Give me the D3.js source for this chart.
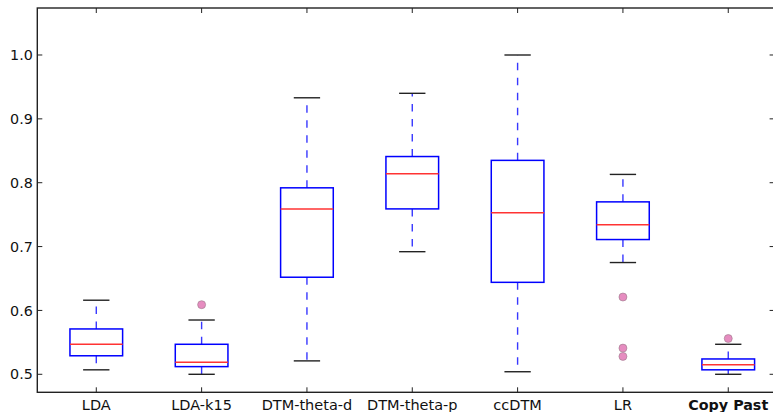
<!DOCTYPE html>
<html>
<head>
<meta charset="utf-8">
<script src="https://cdn.jsdelivr.net/npm/d3@7/dist/d3.min.js"></script>
<style>
  html, body { margin: 0; padding: 0; background: #fff; }
  svg { display: block; }
  text { font-family: "DejaVu Sans", sans-serif; }
</style>
</head>
<body>
<svg id="chart" width="773" height="412"></svg>
<script>
// ---- data ----
const categories = ["LDA", "LDA-k15", "DTM-theta-d", "DTM-theta-p", "ccDTM", "LR", "Copy Past"];
const whiskerLow  = [0.507, 0.500, 0.521, 0.692, 0.504, 0.675, 0.500];
const q1          = [0.529, 0.512, 0.652, 0.759, 0.644, 0.711, 0.507];
const medians     = [0.547, 0.519, 0.759, 0.814, 0.753, 0.734, 0.515];
const q3          = [0.571, 0.547, 0.792, 0.841, 0.835, 0.770, 0.524];
const whiskerHigh = [0.616, 0.585, 0.933, 0.940, 1.000, 0.813, 0.547];
const fliers      = [[], [0.609], [], [], [], [0.621, 0.541, 0.528], [0.556]];
const yTicks      = [0.5, 0.6, 0.7, 0.8, 0.9, 1.0];
const yTickLabels = ["0.5", "0.6", "0.7", "0.8", "0.9", "1.0"];

// ---- layout ----
const pL = 37.3, pR = 774.6, pT = 8, pB = 392.3;
const svg = d3.select("#chart");

const x = d3.scaleLinear().domain([0.44, 7.44]).range([pL, pR]);
const y = d3.scaleLinear().domain([0.4718, 1.0736]).range([pB, pT]);

const boxW = 0.5, capW = 0.25;
const data = categories.map((c, i) => ({
  name: c, pos: i + 1,
  lo: whiskerLow[i], q1: q1[i], med: medians[i], q3: q3[i], hi: whiskerHigh[i],
  fl: fliers[i]
}));

const g = svg.append("g");

// whiskers (dashed blue), dashes starting at the box edge
g.selectAll(".wup").data(data).join("line")
  .attr("x1", d => x(d.pos)).attr("x2", d => x(d.pos))
  .attr("y1", d => y(d.q3)).attr("y2", d => y(d.hi))
  .attr("stroke", "#3838ff").attr("stroke-width", 1.4)
  .attr("stroke-dasharray", "7.5,7.5");
g.selectAll(".wdn").data(data).join("line")
  .attr("x1", d => x(d.pos)).attr("x2", d => x(d.pos))
  .attr("y1", d => y(d.q1)).attr("y2", d => y(d.lo))
  .attr("stroke", "#3838ff").attr("stroke-width", 1.4)
  .attr("stroke-dasharray", "7.5,7.5");

// caps
["hi", "lo"].forEach(k => {
  g.selectAll(".cap" + k).data(data).join("line")
    .attr("x1", d => x(d.pos - capW / 2)).attr("x2", d => x(d.pos + capW / 2))
    .attr("y1", d => y(d[k])).attr("y2", d => y(d[k]))
    .attr("stroke", "#222").attr("stroke-width", 1.4);
});

// boxes
g.selectAll(".box").data(data).join("rect")
  .attr("x", d => x(d.pos - boxW / 2))
  .attr("width", d => x(d.pos + boxW / 2) - x(d.pos - boxW / 2))
  .attr("y", d => y(d.q3))
  .attr("height", d => y(d.q1) - y(d.q3))
  .attr("fill", "none").attr("stroke", "#0000ff").attr("stroke-width", 1.5);

// medians
g.selectAll(".med").data(data).join("line")
  .attr("x1", d => x(d.pos - boxW / 2)).attr("x2", d => x(d.pos + boxW / 2))
  .attr("y1", d => y(d.med)).attr("y2", d => y(d.med))
  .attr("stroke", "#ff3333").attr("stroke-width", 1.5);

// fliers
const flierPts = data.flatMap(d => d.fl.map(v => ({ pos: d.pos, v })));
g.selectAll(".fl").data(flierPts).join("circle")
  .attr("cx", d => x(d.pos)).attr("cy", d => y(d.v)).attr("r", 4)
  .attr("fill", "#e68cc0").attr("stroke", "#9a7a8a").attr("stroke-width", 0.6);

// spines
g.append("rect").attr("x", pL).attr("y", pT)
  .attr("width", pR - pL).attr("height", pB - pT)
  .attr("fill", "none").attr("stroke", "#222").attr("stroke-width", 1.4);

// y ticks (inward, both sides) and labels
g.selectAll(".ytl").data(yTicks).join("line")
  .attr("x1", pL).attr("x2", pL + 5)
  .attr("y1", d => y(d)).attr("y2", d => y(d))
  .attr("stroke", "#222").attr("stroke-width", 1);
g.selectAll(".ytr").data(yTicks).join("line")
  .attr("x1", pR - 5).attr("x2", pR)
  .attr("y1", d => y(d)).attr("y2", d => y(d))
  .attr("stroke", "#222").attr("stroke-width", 1);
g.selectAll(".ylab").data(yTicks).join("text")
  .attr("x", pL - 4.5).attr("y", d => y(d))
  .attr("dy", "0.36em").attr("text-anchor", "end")
  .attr("font-size", 14.3).attr("fill", "#111")
  .text((d, i) => yTickLabels[i]);

// x ticks (inward, top and bottom) and labels
g.selectAll(".xtb").data(data).join("line")
  .attr("x1", d => x(d.pos)).attr("x2", d => x(d.pos))
  .attr("y1", pB).attr("y2", pB - 5)
  .attr("stroke", "#222").attr("stroke-width", 1);
g.selectAll(".xtt").data(data).join("line")
  .attr("x1", d => x(d.pos)).attr("x2", d => x(d.pos))
  .attr("y1", pT).attr("y2", pT + 5)
  .attr("stroke", "#222").attr("stroke-width", 1);
g.selectAll(".xlab").data(data).join("text")
  .attr("x", d => x(d.pos)).attr("y", 410)
  .attr("text-anchor", "middle")
  .attr("font-size", d => d.name === "Copy Past" ? 14.3 : 14.5).attr("fill", "#111")
  .attr("font-weight", d => d.name === "Copy Past" ? "bold" : "normal")
  .text(d => d.name);
</script>
</body>
</html>
